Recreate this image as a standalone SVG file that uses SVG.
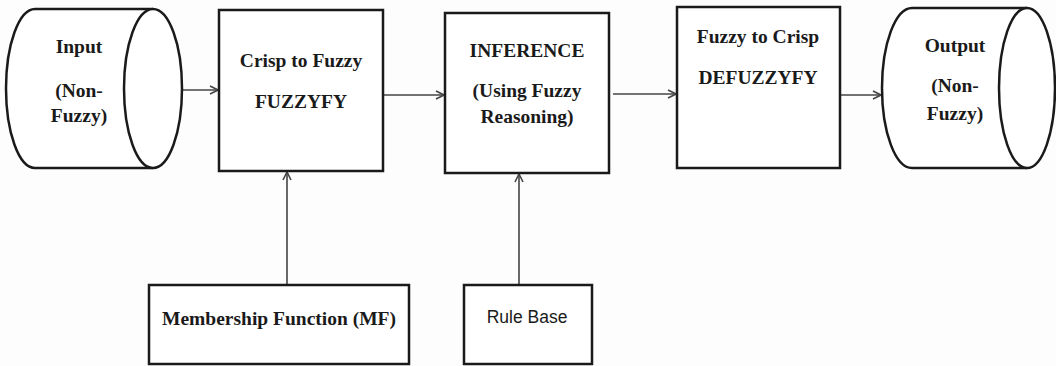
<svg xmlns="http://www.w3.org/2000/svg" width="1056" height="366" viewBox="0 0 1056 366">
<defs>
<style>
.box{fill:#fff;stroke:#1a1a1a;stroke-width:2.5}
.cyl{fill:#fff;stroke:#1a1a1a;stroke-width:2.5}
.t{font-family:"Liberation Serif","Times New Roman",serif;font-weight:bold;font-size:19.5px;fill:#1a1a1a;text-anchor:middle}
.s{font-family:"Liberation Sans",Arial,sans-serif;font-size:17.5px;fill:#1a1a1a;text-anchor:middle}
.c{fill:none;stroke:#444;stroke-width:1.6}
</style>
<marker id="ah" viewBox="0 0 10 10" refX="9" refY="5" markerWidth="10" markerHeight="10" markerUnits="userSpaceOnUse" orient="auto">
<path d="M1,1 L9,5 L1,9" fill="none" stroke="#444" stroke-width="1.6"/>
</marker>
</defs>
<rect width="1056" height="366" fill="#fdfdfd"/>
<g id="connectors">
<line class="c" x1="183" y1="90" x2="218" y2="90" marker-end="url(#ah)"/>
<line class="c" x1="383" y1="95" x2="444" y2="95" marker-end="url(#ah)"/>
<line class="c" x1="613" y1="94" x2="676" y2="94" marker-end="url(#ah)"/>
<line class="c" x1="841" y1="95" x2="881" y2="95" marker-end="url(#ah)"/>
<line class="c" x1="287" y1="285" x2="287" y2="172" marker-end="url(#ah)"/>
<line class="c" x1="519" y1="285" x2="519" y2="174" marker-end="url(#ah)"/>
</g>
<g id="input">
<path class="cyl" d="M153,9 L35,9 A29,79.5 0 0 0 35,168 L153,168"/>
<ellipse class="cyl" cx="153" cy="88.5" rx="29" ry="79.5"/>
<text class="t" x="79" y="53">Input</text>
<text class="t" x="79" y="97">(Non-</text>
<text class="t" x="79" y="122">Fuzzy)</text>
</g>
<g id="fuzzify">
<rect class="box" x="219" y="10" width="164" height="161"/>
<text class="t" x="301" y="67">Crisp to Fuzzy</text>
<text class="t" x="301" y="108">FUZZYFY</text>
</g>
<g id="inference">
<rect class="box" x="445" y="13" width="164" height="160"/>
<text class="t" x="527" y="57">INFERENCE</text>
<text class="t" x="527" y="97">(Using Fuzzy</text>
<text class="t" x="527" y="123">Reasoning)</text>
</g>
<g id="defuzzify">
<rect class="box" x="677" y="7" width="163" height="161"/>
<text class="t" x="758" y="43">Fuzzy to Crisp</text>
<text class="t" x="758" y="84">DEFUZZYFY</text>
</g>
<g id="output">
<path class="cyl" d="M1027,8 L912,8 A30,80 0 0 0 912,168 L1027,168"/>
<ellipse class="cyl" cx="1027" cy="88" rx="28" ry="80"/>
<text class="t" x="955" y="52">Output</text>
<text class="t" x="955" y="92">(Non-</text>
<text class="t" x="955" y="120">Fuzzy)</text>
</g>
<g id="membership">
<rect class="box" x="149" y="285" width="260" height="79"/>
<text class="t" x="279" y="325">Membership Function (MF)</text>
</g>
<g id="rulebase">
<rect class="box" x="464" y="285" width="128" height="79"/>
<text class="s" x="527" y="323">Rule Base</text>
</g>
</svg>
